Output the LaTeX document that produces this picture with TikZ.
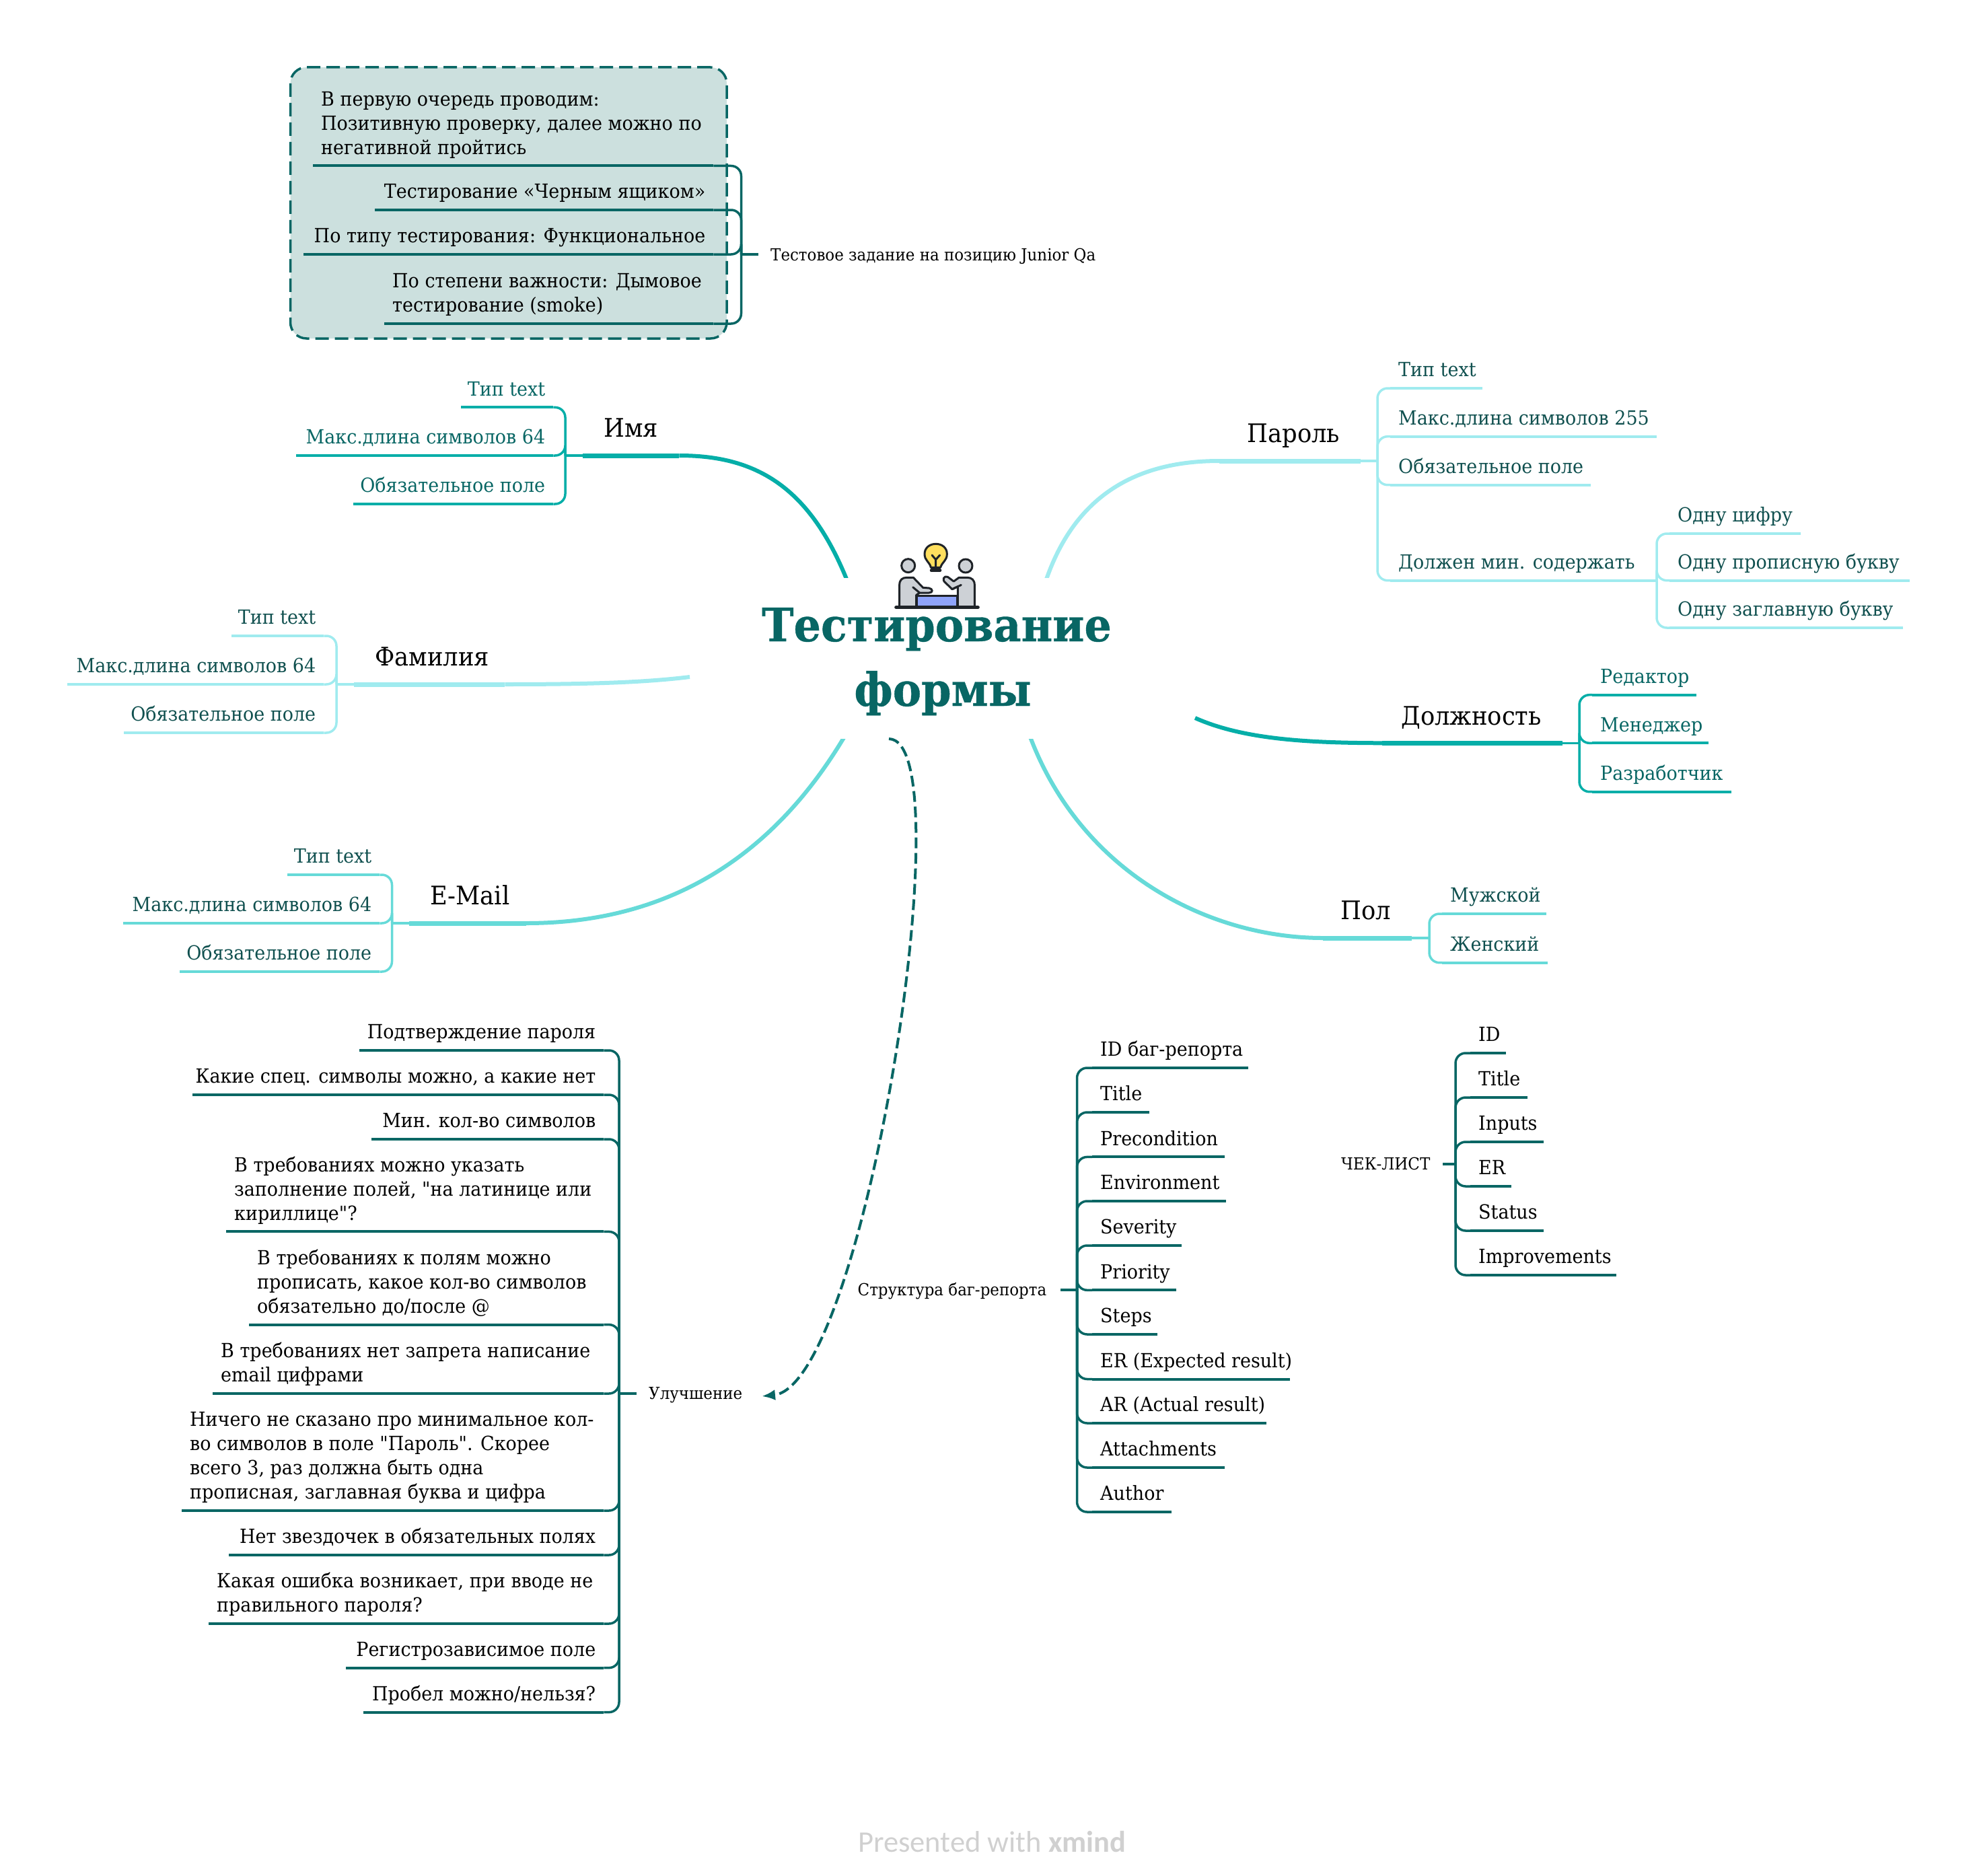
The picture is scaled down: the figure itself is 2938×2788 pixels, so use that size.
\documentclass[tikz,border=0pt]{standalone}
\usepackage{fontspec}
\usetikzlibrary{arrows.meta}
\newfontfamily\slab[FakeStretch=0.93]{DejaVu Serif}
\newfontfamily\slabroot[FakeStretch=0.93,FakeBold=0.6]{DejaVu Serif Bold}
\newfontfamily\wmfont{Carlito}
\definecolor{dteal}{HTML}{086664}
\definecolor{cteal}{HTML}{05AEA8}
\definecolor{cmid}{HTML}{66DAD8}
\definecolor{clight}{HTML}{A0EBEF}
\definecolor{tdark}{HTML}{10504F}
\definecolor{boxfill}{HTML}{CCE0DE}
\definecolor{wm}{HTML}{D0D0D0}
\definecolor{icdark}{HTML}{1F2328}
\definecolor{icgray}{HTML}{CDD1D6}
\definecolor{icblue}{HTML}{8FA4FB}
\definecolor{icyellow}{HTML}{FFDF5E}
\tikzset{
  leaf/.style={inner xsep=12pt,inner ysep=17pt,text depth=0pt,anchor=south west,
    font=\slab\fontsize{29}{36}\selectfont},
  branchnode/.style={inner xsep=31pt,inner ysep=27pt,text depth=0pt,anchor=south west,
    text=black,font=\slab\fontsize{38}{44}\selectfont},
  subject/.style={inner xsep=18pt,inner ysep=0pt,anchor=base west,text=black,
    font=\slab\fontsize{24.7}{30}\selectfont},
  uline/.style={line width=4pt},
  conn/.style={line width=3.5pt,rounded corners=15pt},
  thick branch/.style={line width=7pt},
  curve branch/.style={line width=6pt},
  rel/.style={dteal,line width=4pt,dash pattern=on 16pt off 7pt},
  bnd/.style={draw=dteal,fill=boxfill,line width=3.5pt,dash pattern=on 20pt off 9pt,rounded corners=24pt,inner sep=0pt},
  icline/.style={draw=icdark,line width=3pt,line join=round,line cap=round}
}
\newcommand\Ml[1]{\begin{tabular}[b]{@{}l@{}}#1\end{tabular}}
\newcommand\Cl[1]{\begin{tabular}[b]{@{}c@{}}#1\end{tabular}}
\newcommand\Leaf[7][dteal]{%
  \pgfmathsetlengthmacro\lfw{#4-#3-24}%
  \node[leaf,text=#6] (#2) at (#3,#5) {\makebox[\lfw][#7]{\LeafText}};%
  \draw[uline,#1] (#2.south west) -- (#2.south east);}
\newcommand\LeafText{}
\newcommand\TL[8][dteal]{% colour, name, x1, x2, y, textcolour, align, text
  \renewcommand\LeafText{#8}\Leaf[#1]{#2}{#3}{#4}{#5}{#6}{#7}}
\newcommand\BR[7]{% colour name x1 x2 y align text
  \pgfmathsetlengthmacro\lfw{#4-#3-62}%
  \node[branchnode] (#2) at (#3,#5) {\makebox[\lfw][#6]{#7}};%
  \draw[thick branch,#1] (#2.south west) -- (#2.south east);}
\begin{document}
\begin{tikzpicture}[x=1pt,y=-1pt]
\useasboundingbox (0,0) rectangle (2938,2788);

% boundary
\node[bnd,minimum width=648.5pt,minimum height=403pt] (boundary) at (755.75,301.5) {};

% root
\node[anchor=base,inner sep=0pt,text=dteal,font=\slabroot\fontsize{68.4}{96}\selectfont] (root) at (1401,1049)
  {\Cl{Тестирование\rule{18pt}{0pt}\\формы}};
\coordinate (rNW) at (1257,858);
\coordinate (rNE) at (1556,858);
\coordinate (rW) at (1025,1006);
\coordinate (rE) at (1776,1067);
\coordinate (rSW) at (1253,1098);
\coordinate (rSE) at (1532,1098);
\coordinate (rS) at (1321,1098);
\coordinate (rImpr) at (1132,2075);

% icon
\begin{scope}[shift={(1100,780)},x=.33333pt,y=-.33333pt]
  \path[icline,fill=icgray] (710,365) -- (710,268) .. controls (710,246) and (722,235) .. (742,235) -- (772,235) -- (815,280) -- (842,282) .. controls (860,285) and (860,303) .. (842,303) -- (800,303) -- (785,313) -- (785,365) -- cycle;
  \path[icline,fill=icgray] (1045,365) -- (1045,268) .. controls (1045,246) and (1032,235) .. (1012,235) -- (975,235) -- (952,252) -- (925,232) .. controls (908,225) and (898,245) .. (915,258) -- (945,287) -- (970,275) -- (970,365) -- cycle;
  \draw[icline] (770,278) -- (800,303);
  \draw[icline] (945,287) -- (985,268);
  \path[icline,fill=icblue] (787,315) rectangle (968,365);
  \path[icline,fill=icyellow] (850,190) .. controls (845,165) and (822,160) .. (822,130) .. controls (822,102) and (845,85) .. (872,85) .. controls (900,85) and (922,102) .. (922,130) .. controls (922,160) and (900,165) .. (893,190) -- cycle;
  \draw[icline] (872,190) -- (872,155) (855,135) -- (872,155) -- (890,135);
  \draw[icline,line width=4.5pt] (852,203) -- (891,203);
  \path[icline,fill=icgray] (749,182) circle [radius=10pt];
  \path[icline,fill=icgray] (1005,183) circle [radius=10pt];
  \draw[icline,line width=5pt] (695,368) -- (1060,368);
\end{scope}

% ===== test task group
\node[subject] (task) at (1127,387) {Тестовое задание на позицию Junior Qa};
\coordinate (tTask) at (1101.5,378);
\TL{b1}{465}{1060}{246.5}{black}{l}{\Ml{В первую очередь проводим:\\Позитивную проверку, далее можно по\\негативной пройтись}}
\TL{b2}{557}{1060}{312}{black}{r}{Тестирование «Черным ящиком»}
\TL{b3}{451}{1060}{378}{black}{r}{По типу тестирования: Функциональное}
\TL{b4}{571}{1060}{481}{black}{l}{\Ml{По степени важности: Дымовое\\тестирование (smoke)}}
\foreach \n in {b1,b2,b3,b4} \draw[conn,dteal] (\n.south east) -| (tTask);
\draw[uline,dteal] (tTask) -- (tTask -| task.west);

% ===== Имя
\BR{cteal}{imya}{866}{1009}{677}{l}{Имя}
\coordinate (tImya) at (840,677);
\TL[cteal]{i1}{685}{822}{605.4}{dteal}{r}{Тип text}
\TL[cteal]{i2}{440}{822}{677}{dteal}{r}{Макс.длина символов 64}
\TL[cteal]{i3}{525}{822}{749}{dteal}{r}{Обязательное поле}
\foreach \n in {i1,i2,i3} \draw[conn,cteal] (\n.south east) -| (tImya);
\draw[conn,cteal] (tImya) -- (imya.south west);

% ===== Фамилия
\BR{clight}{fam}{526}{750}{1017}{l}{Фамилия}
\coordinate (tFam) at (500,1017);
\TL[clight]{f1}{344}{481}{945}{tdark}{r}{Тип text}
\TL[clight]{f2}{100}{481}{1017}{tdark}{r}{Макс.длина символов 64}
\TL[clight]{f3}{184}{481}{1089}{tdark}{r}{Обязательное поле}
\foreach \n in {f1,f2,f3} \draw[conn,clight] (\n.south east) -| (tFam);
\draw[conn,clight] (tFam) -- (fam.south west);
\draw[curve branch,clight] (fam.south east) .. controls (880,1017) and (960,1014) .. (rW);

% ===== E-Mail
\BR{cmid}{mail}{608}{781.5}{1372}{l}{E-Mail}
\coordinate (tMail) at (582.5,1372);
\TL[cmid]{e1}{427}{564}{1300}{tdark}{r}{Тип text}
\TL[cmid]{e2}{183}{564}{1372}{tdark}{r}{Макс.длина символов 64}
\TL[cmid]{e3}{267}{564}{1444}{tdark}{r}{Обязательное поле}
\foreach \n in {e1,e2,e3} \draw[conn,cmid] (\n.south east) -| (tMail);
\draw[conn,cmid] (tMail) -- (mail.south west);

% ===== Пароль
\BR{clight}{pass}{1812}{2022}{685}{r}{Пароль}
\coordinate (tPass) at (2047,685);
\TL[clight]{p1}{2066}{2203}{577}{tdark}{l}{Тип text}
\TL[clight]{p2}{2066}{2462}{648.7}{tdark}{l}{Макс.длина символов 255}
\TL[clight]{p3}{2066}{2364}{720.7}{tdark}{l}{Обязательное поле}
\TL[clight]{p4}{2066}{2434}{862.7}{tdark}{l}{Должен мин. содержать}
\foreach \n in {p1,p2,p3,p4} \draw[conn,clight] (\n.south west) -| (tPass);
\draw[conn,clight] (tPass) -- (pass.south east);
\coordinate (tMust) at (2462,862.7);
\TL[clight]{m1}{2481}{2676}{793}{tdark}{l}{Одну цифру}
\TL[clight]{m2}{2481}{2838}{862.7}{tdark}{l}{Одну прописную букву}
\TL[clight]{m3}{2481}{2828}{933}{tdark}{l}{Одну заглавную букву}
\foreach \n in {m1,m2,m3} \draw[conn,clight] (\n.south west) -| (tMust);
\draw[uline,clight] (tMust) -- (p4.south east);

% ===== Должность
\BR{cteal}{pos}{2054}{2321.5}{1104.3}{r}{Должность}
\coordinate (tPos) at (2347,1104.3);
\TL[cteal]{d1}{2366}{2521}{1032.7}{dteal}{l}{Редактор}
\TL[cteal]{d2}{2366}{2539}{1104.3}{dteal}{l}{Менеджер}
\TL[cteal]{d3}{2366}{2573}{1176.7}{dteal}{l}{Разработчик}
\foreach \n in {d1,d2,d3} \draw[conn,cteal] (\n.south west) -| (tPos);
\draw[conn,cteal] (tPos) -- (pos.south east);
\draw[curve branch,cteal] (pos.south west) .. controls (1950,1104) and (1850,1100) .. (rE);

% ===== Пол
\BR{cmid}{sex}{1966}{2098}{1394}{r}{Пол}
\coordinate (tSex) at (2124,1394);
\TL[cmid]{s1}{2143}{2298}{1358}{tdark}{l}{Мужской}
\TL[cmid]{s2}{2143}{2300}{1430.7}{tdark}{l}{Женский}
\foreach \n in {s1,s2} \draw[conn,cmid] (\n.south west) -| (tSex);
\draw[conn,cmid] (tSex) -- (sex.south east);

% branch curves, cut flat where they meet the root's zone
\begin{scope}
  \clip (0,0) rectangle (2938,858);
  \draw[curve branch,cteal] (imya.south east) .. controls (1120,677) and (1200,720) .. (rNW) -- ++(4,10);
  \draw[curve branch,clight] (pass.south west) .. controls (1690,685) and (1600,735) .. (rNE) -- ++(-4,10);
\end{scope}
\begin{scope}
  \clip (0,1098) rectangle (2938,2788);
  \draw[curve branch,cmid] (mail.south east) .. controls (950,1372) and (1125,1310) .. (rSW) -- ++(6,-10);
  \draw[curve branch,cmid] (sex.south west) .. controls (1800,1394) and (1610,1300) .. (rSE) -- ++(-4,-10);
\end{scope}

% ===== Улучшение
\node[subject] (impr) at (946,2079) {Улучшение};
\coordinate (tImpr) at (920,2071);
\TL{u1}{534}{897}{1561}{black}{r}{Подтверждение пароля}
\TL{u2}{286}{897}{1627}{black}{r}{Какие спец. символы можно, а какие нет}
\TL{u3}{552}{897}{1693}{black}{r}{Мин. кол-во символов}
\TL{u4}{336}{897}{1830.4}{black}{l}{\Ml{В требованиях можно указать\\заполнение полей, "на латинице или\\кириллице"?}}
\TL{u5}{370}{897}{1968.6}{black}{l}{\Ml{В требованиях к полям можно\\прописать, какое кол-во символов\\обязательно до/после @}}
\TL{u6}{316}{897}{2071}{black}{l}{\Ml{В требованиях нет запрета написание\\email цифрами}}
\TL{u7}{270}{897}{2245}{black}{l}{\Ml{Ничего не сказано про минимальное кол-\\во символов в поле "Пароль". Скорее\\всего 3, раз должна быть одна\\прописная, заглавная буква и цифра}}
\TL{u8}{340}{897}{2311}{black}{r}{Нет звездочек в обязательных полях}
\TL{u9}{310}{897}{2413}{black}{l}{\Ml{Какая ошибка возникает, при вводе не\\правильного пароля?}}
\TL{u10}{514}{897}{2478.6}{black}{r}{Регистрозависимое поле}
\TL{u11}{540}{897}{2544.6}{black}{r}{Пробел можно/нельзя?}
\foreach \n in {u1,u2,u3,u4,u5,u6,u7,u8,u9,u10,u11} \draw[conn,dteal] (\n.south east) -| (tImpr);
\draw[uline,dteal] (tImpr) -- (tImpr -| impr.west);

% relationship
\draw[rel,-{Latex[length=20pt,width=16pt]}] (rS) .. controls (1435,1100) and (1285,2060) .. (rImpr);

% ===== Структура баг-репорта
\node[subject,inner xsep=20pt] (bug) at (1254.5,1925) {Структура баг-репорта};
\coordinate (tBug) at (1600.5,1917.3);
\TL{g1}{1623}{1855}{1587}{black}{l}{ID баг-репорта}
\TL{g2}{1623}{1708}{1653}{black}{l}{Title}
\TL{g3}{1623}{1820}{1719.4}{black}{l}{Precondition}
\TL{g4}{1623}{1822}{1785}{black}{l}{Environment}
\TL{g5}{1623}{1756}{1851}{black}{l}{Severity}
\TL{g6}{1623}{1748}{1917.3}{black}{l}{Priority}
\TL{g7}{1623}{1720}{1983}{black}{l}{Steps}
\TL{g8}{1623}{1916.5}{2049.5}{black}{l}{ER (Expected result)}
\TL{g9}{1623}{1882}{2115}{black}{l}{AR (Actual result)}
\TL{g10}{1623}{1820}{2181}{black}{l}{Attachments}
\TL{g11}{1623}{1740.5}{2247}{black}{l}{Author}
\foreach \n in {g1,g2,g3,g4,g5,g6,g7,g8,g9,g10,g11} \draw[conn,dteal] (\n.south west) -| (tBug);
\draw[uline,dteal] (tBug) -- (tBug -| bug.east);

% ===== ЧЕК-ЛИСТ
\node[subject,inner xsep=18pt] (chk) at (1975,1738) {ЧЕК-ЛИСТ};
\coordinate (tChk) at (2163,1730);
\TL{c1}{2185}{2238}{1565}{black}{l}{ID}
\TL{c2}{2185}{2270}{1631}{black}{l}{Title}
\TL{c3}{2185}{2294}{1697}{black}{l}{Inputs}
\TL{c4}{2185}{2246}{1763}{black}{l}{ER}
\TL{c5}{2185}{2294}{1829}{black}{l}{Status}
\TL{c6}{2185}{2402}{1895}{black}{l}{Improvements}
\foreach \n in {c1,c2,c3,c4,c5,c6} \draw[conn,dteal] (\n.south west) -| (tChk);
\draw[uline,dteal] (tChk) -- (tChk -| chk.east);

% watermark
\node[anchor=base west,inner sep=0pt,text=wm,font=\wmfont\fontsize{44.5}{54}\selectfont] (wmark) at (1275,2752) {Presented with \textbf{xmind}};
\end{tikzpicture}
\end{document}
